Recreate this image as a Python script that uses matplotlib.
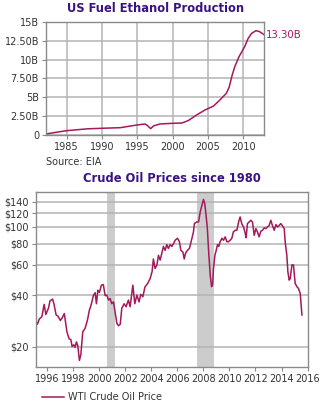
import matplotlib
matplotlib.use('Agg')
import matplotlib.pyplot as plt
from matplotlib.lines import Line2D

# US fuel ethanol production, billions of gallons
eth_years = [1982.1, 1983.5, 1985, 1988, 1990, 1992.6, 1995, 1996.1, 1996.4,
             1996.9, 1997.3, 1998.2, 2000, 2001.3, 2002.2, 2003.4, 2004.6,
             2005.8, 2006.7, 2007.6, 2008.0, 2008.4, 2008.8, 2009.4, 2010.2,
             2010.7, 2011.2, 2011.8, 2012.3, 2013.0]
eth_values = [0.13, 0.35, 0.57, 0.82, 0.89, 0.97, 1.33, 1.46, 1.29,
              0.84, 1.2, 1.46, 1.55, 1.59, 1.9, 2.66, 3.32,
              3.85, 4.65, 5.53, 6.33, 7.84, 9.07, 10.4, 11.73,
              12.84, 13.5, 13.85, 13.72, 13.28]
eth_yticks = [0, 2.5, 5, 7.5, 10, 12.5, 15]
eth_ylabels = ['0', '2.50B', '5B', '7.50B', '10B', '12.50B', '15B']
eth_xticks = [1985, 1990, 1995, 2000, 2005, 2010]
eth_last_label = '13.30B'

# WTI crude oil price, dollars per barrel
oil_years = [1995.11, 1995.23, 1995.38, 1995.57, 1995.75, 1995.88, 1996.08, 1996.2,
             1996.4, 1996.5, 1996.67, 1996.8, 1997.0, 1997.15, 1997.3, 1997.5,
             1997.67, 1997.8, 1997.9, 1998.03, 1998.13, 1998.23, 1998.34, 1998.46,
             1998.57, 1998.72, 1998.9, 1999.08, 1999.23, 1999.36, 1999.54, 1999.67,
             1999.77, 1999.88, 2000.0, 2000.15, 2000.3, 2000.44, 2000.57, 2000.7,
             2000.82, 2000.95, 2001.08, 2001.2, 2001.34, 2001.46, 2001.6, 2001.72,
             2001.9, 2002.05, 2002.23, 2002.36, 2002.57, 2002.72, 2002.88, 2003.05,
             2003.18, 2003.34, 2003.5, 2003.72, 2003.9, 2004.05, 2004.15, 2004.28,
             2004.42, 2004.54, 2004.67, 2004.8, 2004.92, 2005.05, 2005.18, 2005.3,
             2005.44, 2005.57, 2005.7, 2005.82, 2006.0, 2006.15, 2006.26, 2006.42,
             2006.52, 2006.62, 2006.77, 2006.92, 2007.05, 2007.23, 2007.3, 2007.49,
             2007.62, 2007.75, 2007.88, 2008.0, 2008.1, 2008.2, 2008.3, 2008.4,
             2008.52, 2008.62, 2008.7, 2008.77, 2008.88, 2008.98, 2009.08, 2009.18,
             2009.28, 2009.42, 2009.54, 2009.67, 2009.8, 2009.92, 2010.05, 2010.18,
             2010.3, 2010.44, 2010.57, 2010.7, 2010.82, 2010.95, 2011.08, 2011.2,
             2011.28, 2011.38, 2011.52, 2011.65, 2011.77, 2011.9, 2012.03, 2012.15,
             2012.28, 2012.41, 2012.54, 2012.67, 2012.8, 2012.92, 2013.05, 2013.18,
             2013.3, 2013.44, 2013.57, 2013.69, 2013.82, 2013.95, 2014.08, 2014.21,
             2014.28, 2014.41, 2014.49, 2014.59, 2014.67, 2014.8, 2014.92, 2015.05,
             2015.18, 2015.3, 2015.44, 2015.57]
oil_prices = [28.4, 27.0, 29.0, 29.9, 35.3, 30.8, 33.5, 37.0,
              37.9, 35.6, 30.6, 30.2, 28.4, 29.6, 31.2, 24.4,
              22.2, 22.0, 20.0, 20.5, 19.8, 21.3, 20.2, 16.6,
              17.9, 24.4, 25.6, 28.6, 32.7, 35.0, 39.8, 41.3,
              35.6, 42.7, 41.5, 45.7, 46.1, 39.7, 40.0, 37.4,
              38.2, 35.6, 36.5, 32.0, 27.4, 26.5, 27.0, 33.5,
              35.6, 34.2, 37.4, 34.2, 45.7, 35.6, 40.0, 36.5,
              40.4, 39.1, 44.6, 46.9, 50.0, 54.9, 65.0, 57.2,
              60.0, 68.3, 64.0, 70.2, 76.9, 73.0, 78.9, 74.9,
              78.9, 76.9, 80.0, 83.6, 85.9, 82.0, 73.0, 71.3,
              65.0, 70.2, 73.0, 74.9, 82.0, 93.6, 104.6, 107.0,
              107.0, 122.4, 133.7, 144.9, 137.0, 116.9, 97.8, 71.3,
              52.3, 44.8, 45.7, 57.2, 68.3, 73.0, 78.9, 76.9,
              82.0, 85.9, 83.6, 87.5, 82.0, 82.0, 83.6, 85.9,
              93.6, 95.7, 95.7, 107.0, 114.4, 104.0, 100.0, 92.5,
              86.4, 104.6, 107.0, 109.4, 107.0, 89.4, 97.8, 93.6,
              87.5, 94.4, 95.7, 98.8, 97.8, 100.0, 102.0, 109.4,
              102.0, 95.7, 103.2, 100.0, 102.0, 104.6, 101.4, 97.8,
              82.0, 68.3, 54.7, 48.9, 49.9, 60.0, 60.0, 46.8,
              44.8, 43.8, 40.9, 30.6]
oil_yticks = [20, 40, 60, 80, 100, 120, 140]
oil_ylabels = ['$20', '$40', '$60', '$80', '$100', '$120', '$140']
oil_xticks = list(range(1996, 2017, 2))
recessions = [(2000.57, 2001.2), (2007.5, 2008.8)]

LINE = '#a3195b'
TITLE = '#3a1380'
GRID = '#b4b4b4'
FRAME = '#8a8a8a'
TEXT = '#333333'

plt.rcParams['font.family'] = 'DejaVu Sans'
plt.rcParams['font.size'] = 7


def style_axes(ax):
    for s in ax.spines.values():
        s.set_color(FRAME)
        s.set_linewidth(1.0)
    ax.tick_params(colors=FRAME, labelcolor=TEXT, length=3, width=0.8,
                   labelsize=7, pad=2)
    ax.grid(True, color=GRID, lw=1.1)
    ax.set_axisbelow(True)


fig = plt.figure(figsize=(3.26, 4.05), dpi=100)

# top: ethanol
ax1 = fig.add_axes([0.1411, 0.6667, 0.6702, 0.279])
ax1.plot(eth_years, eth_values, color=LINE, lw=1.1)
ax1.set_xlim(1982.1, 2013.0)
ax1.set_ylim(0, 15)
ax1.set_yticks(eth_yticks, eth_ylabels)
ax1.set_xticks(eth_xticks)
style_axes(ax1)
ax1.set_title('US Fuel Ethanol Production', fontsize=8.3, fontweight='bold',
              color=TITLE, pad=7)
ax1.annotate(eth_last_label, (eth_years[-1], eth_values[-1]),
             xytext=(1, 0), textcoords='offset points', color=LINE,
             fontsize=7.3, va='center', ha='left', annotation_clip=False)
fig.text(46 / 326, 1 - 162 / 405, 'Source: EIA', fontsize=7, color=TEXT,
         va='center', ha='left')

# bottom: crude oil
ax2 = fig.add_axes([0.1095, 0.0938, 0.8338, 0.4321])
for a, b in recessions:
    ax2.axvspan(a, b, color='#cccccc', lw=0, zorder=0.5)
ax2.plot(oil_years, oil_prices, color=LINE, lw=1.1)
ax2.set_yscale('log')
ax2.set_xlim(1995.1, 2016.0)
ax2.set_ylim(15.2, 160)
ax2.set_yticks(oil_yticks, oil_ylabels)
ax2.minorticks_off()
ax2.set_xticks(oil_xticks)
style_axes(ax2)
ax2.grid(False, axis='x')
ax2.set_title('Crude Oil Prices since 1980', fontsize=8.3, fontweight='bold',
              color=TITLE, pad=7)

handle = Line2D([], [], color=LINE, lw=1.1)
fig.legend([handle], ['WTI Crude Oil Price'], loc='center left',
           bbox_to_anchor=(33 / 326, 1 - 397 / 405), frameon=False,
           fontsize=7, handlelength=2.3, handletextpad=0.4,
           labelcolor=TEXT)

fig.savefig('out.png', dpi=100)
